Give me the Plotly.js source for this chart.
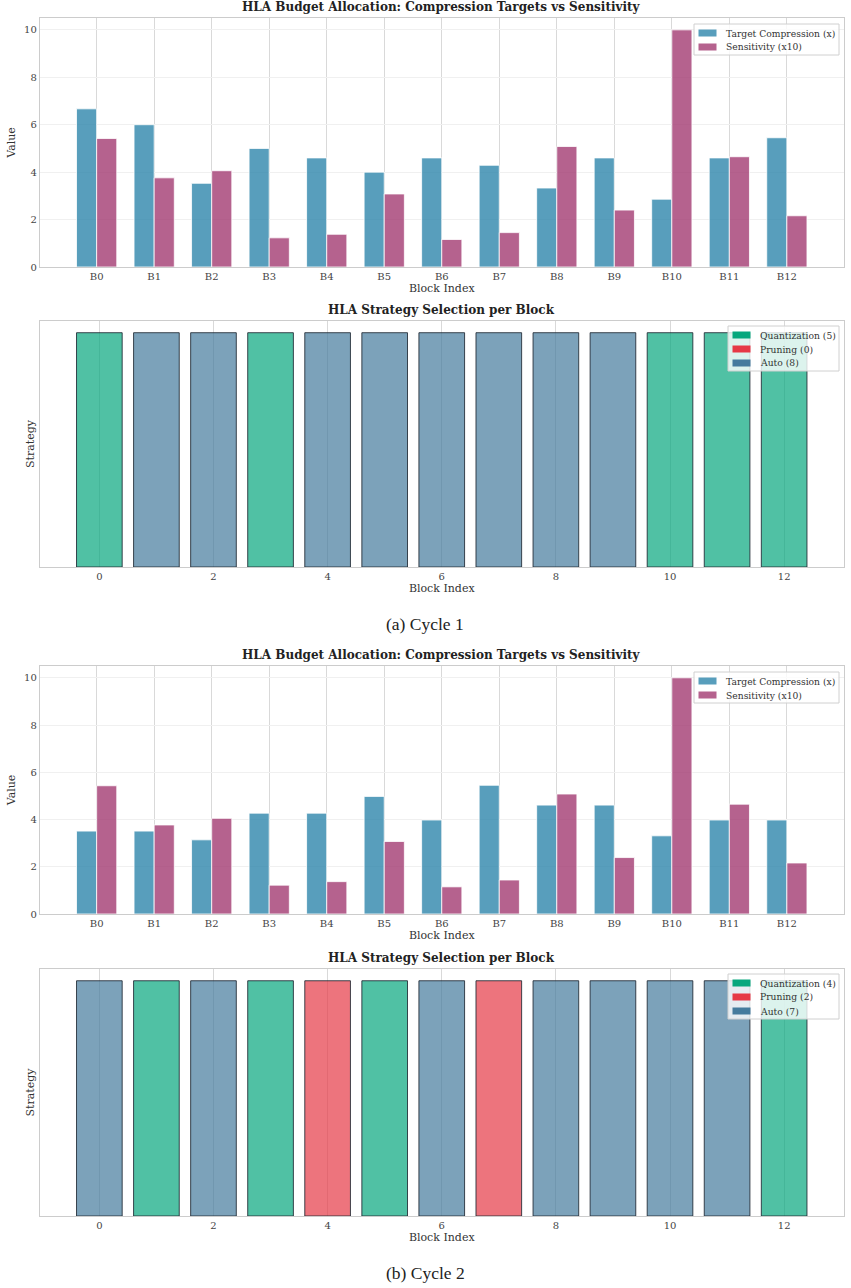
<!DOCTYPE html>
<html>
<head>
<meta charset="utf-8">
<script src="https://cdn.plot.ly/plotly-3.0.1.min.js"></script>
<style>html,body{margin:0;padding:0;background:#fff;}#chart{width:851px;height:1288px;}</style>
</head>
<body>
<div id="chart"></div>
<script>
// ---------- DATA ----------
const blockIndex = [0,1,2,3,4,5,6,7,8,9,10,11,12];
const blockLabels = ["B0","B1","B2","B3","B4","B5","B6","B7","B8","B9","B10","B11","B12"];

const cycle1Target = [6.67,6.0,3.53,5.0,4.6,4.0,4.6,4.29,3.33,4.6,2.86,4.6,5.45];
const cycle1Sens   = [5.42,3.76,4.06,1.23,1.38,3.08,1.16,1.45,5.08,2.40,10.0,4.65,2.16];
const cycle1Strategy = ["Q","A","A","Q","A","A","A","A","A","A","Q","Q","Q"];

const cycle2Target = [3.51,3.51,3.14,4.27,4.27,4.98,3.98,5.45,4.61,4.61,3.31,3.98,3.98];
const cycle2Sens   = [5.43,3.77,4.05,1.22,1.37,3.07,1.15,1.44,5.08,2.39,10.0,4.65,2.16];
const cycle2Strategy = ["A","Q","A","Q","P","Q","A","P","A","A","A","A","Q"];

const seriesNames = ["Target Compression (x)", "Sensitivity (x10)"];
const strategyNames = {Q:"Quantization", P:"Pruning", A:"Auto"};
const strategyOrder = ["Q","P","A"];
const yTicks = [0,2,4,6,8,10];
const stratTicks = [0,2,4,6,8,10,12];

// ---------- STYLE ----------
const FONT = "DejaVu Serif";
const colTarget = "rgba(46,134,171,0.8)";
const colSens = "rgba(162,59,114,0.8)";
const stratSolid = {Q:"#06A77D", P:"#E63946", A:"#457B9D"};
const stratAlpha = {Q:"rgba(6,167,125,0.7)", P:"rgba(230,57,70,0.7)", A:"rgba(69,123,157,0.7)"};

const H = 1288, W = 851;
const px = v => v / W;
const py = v => 1 - v / H;
const xDom = [40/W, 843.5/W];
const panels = [
  {top:18, bot:267},
  {top:321, bot:567},
  {top:666, bot:914},
  {top:969, bot:1216}
];

const traces = [];
const shapes = [];
const annotations = [];
const layout = {
  width: W, height: H,
  margin: {l:0, r:0, t:0, b:0},
  paper_bgcolor: "#fff", plot_bgcolor: "#fff",
  font: {family: FONT, size: 10, color: "#333"},
  showlegend: false,
  barmode: "overlay"
};

function axisBase(){
  return {
    showline: true, mirror: true, linecolor: "#cccccc", linewidth: 1.2,
    zeroline: false, ticks: "", tickfont: {family: FONT, size: 10, color: "#444"}
  };
}

// Manual legend box (matplotlib-style)
function drawLegend(left, top, right, entries){
  const rowH = 14;
  const bottom = top + 8 + rowH * (entries.length - 1) + 9;
  shapes.push({
    type: "rect", xref: "paper", yref: "paper", layer: "above",
    x0: px(left), x1: px(right), y0: py(bottom), y1: py(top),
    fillcolor: "rgba(255,255,255,0.8)", line: {color: "#d0d0d0", width: 1}
  });
  entries.forEach((e, i) => {
    const cy = top + 9 + rowH * i;
    shapes.push({
      type: "rect", xref: "paper", yref: "paper", layer: "above",
      x0: px(left + 4.5), x1: px(left + 22.5), y0: py(cy + 3.5), y1: py(cy - 3.5),
      fillcolor: e.color, line: {width: 0}
    });
    annotations.push({
      text: e.label, xref: "paper", yref: "paper", x: px(left + 29.5), y: py(cy),
      xanchor: "left", yanchor: "middle", showarrow: false,
      font: {family: FONT, size: 9.2, color: "#333"}
    });
  });
}

function addTitle(p, text){
  annotations.push({
    text: "<b>" + text + "</b>",
    xref: "paper", yref: "paper", x: 442/W, y: py(p.top - 2), xanchor: "center", yanchor: "bottom",
    showarrow: false, font: {family: FONT, size: 12, color: "#222"}
  });
}

function addBudget(pi, target, sens){
  const xa = "x" + (pi+1), ya = "y" + (pi+1);
  const p = panels[pi];
  traces.push({
    type: "bar", x: blockIndex, y: target, width: 0.35, offset: -0.35,
    name: seriesNames[0], xaxis: xa, yaxis: ya,
    marker: {color: colTarget, line: {color: "rgba(255,255,255,0.8)", width: 1}}
  });
  traces.push({
    type: "bar", x: blockIndex, y: sens, width: 0.35, offset: 0,
    name: seriesNames[1], xaxis: xa, yaxis: ya,
    marker: {color: colSens, line: {color: "rgba(255,255,255,0.8)", width: 1}}
  });
  layout["xaxis" + (pi+1)] = Object.assign(axisBase(), {
    domain: xDom, anchor: ya, range: [-0.985, 12.985],
    tickvals: blockIndex, ticktext: blockLabels,
    showgrid: true, gridcolor: "#d9d9d9", gridwidth: 1,
    title: {text: "Block Index", font: {family: FONT, size: 11, color: "#333"}, standoff: 3}
  });
  layout["yaxis" + (pi+1)] = Object.assign(axisBase(), {
    domain: [py(p.bot), py(p.top)], anchor: xa, range: [0, 10.5],
    tickvals: yTicks, showgrid: true, gridcolor: "#f0f0f0", gridwidth: 1,
    title: {text: "Value", font: {family: FONT, size: 11, color: "#333"}, standoff: 6}
  });
  drawLegend(694, p.top + 6, 839, [
    {label: seriesNames[0], color: colTarget},
    {label: seriesNames[1], color: colSens}
  ]);
  addTitle(p, "HLA Budget Allocation: Compression Targets vs Sensitivity");
}

function addStrategy(pi, strat){
  const xa = "x" + (pi+1), ya = "y" + (pi+1);
  const p = panels[pi];
  strategyOrder.forEach(k => {
    const xs = [], ys = [];
    strat.forEach((s, i) => { if (s === k) { xs.push(blockIndex[i]); ys.push(1); } });
    traces.push({
      type: "bar", x: xs, y: ys, width: 0.8, xaxis: xa, yaxis: ya,
      name: strategyNames[k], hoverinfo: "skip",
      marker: {color: stratAlpha[k], line: {color: "rgba(30,40,50,0.85)", width: 1}}
    });
  });
  layout["xaxis" + (pi+1)] = Object.assign(axisBase(), {
    domain: xDom, anchor: ya, range: [-1.04, 13.04],
    tickvals: stratTicks, showgrid: true, gridcolor: "#d9d9d9", gridwidth: 1,
    title: {text: "Block Index", font: {family: FONT, size: 11, color: "#333"}, standoff: 3}
  });
  layout["yaxis" + (pi+1)] = Object.assign(axisBase(), {
    domain: [py(p.bot), py(p.top)], anchor: xa, range: [0, 1.05],
    showgrid: false, showticklabels: false,
    title: {text: "Strategy", font: {family: FONT, size: 11, color: "#333"}, standoff: 2}
  });
  drawLegend(728, p.top + 5, 839, strategyOrder.map(k => ({
    label: strategyNames[k] + " (" + strat.filter(s => s === k).length + ")",
    color: stratSolid[k]
  })));
  addTitle(p, "HLA Strategy Selection per Block");
}

addBudget(0, cycle1Target, cycle1Sens);
addStrategy(1, cycle1Strategy);
addBudget(2, cycle2Target, cycle2Sens);
addStrategy(3, cycle2Strategy);

annotations.push({
  text: "(a) Cycle 1", xref: "paper", yref: "paper", x: 425/W, y: py(624), xanchor: "center", yanchor: "middle",
  showarrow: false, font: {family: "Liberation Serif", size: 17.5, color: "#222"}
});
annotations.push({
  text: "(b) Cycle 2", xref: "paper", yref: "paper", x: 425/W, y: py(1273), xanchor: "center", yanchor: "middle",
  showarrow: false, font: {family: "Liberation Serif", size: 17.5, color: "#222"}
});

layout.shapes = shapes;
layout.annotations = annotations;

Plotly.newPlot("chart", traces, layout, {displayModeBar: false, staticPlot: true});
</script>
</body>
</html>
